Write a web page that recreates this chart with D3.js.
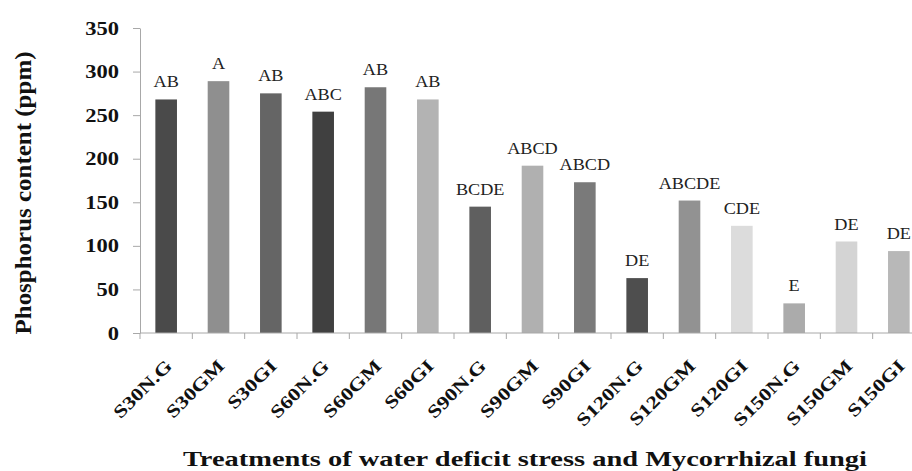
<!DOCTYPE html>
<html>
<head>
<meta charset="utf-8">
<script src="https://cdn.jsdelivr.net/npm/d3@7"></script>
<style>
  html, body { margin: 0; padding: 0; background: #fff; }
  svg { display: block; }
</style>
</head>
<body>
<div id="chart"></div>
<script>
const treatments = ["S30N.G", "S30GM", "S30GI", "S60N.G", "S60GM", "S60GI", "S90N.G", "S90GM",
  "S90GI", "S120N.G", "S120GM", "S120GI", "S150N.G", "S150GM", "S150GI"];
const phosphorus = [268, 289, 275, 254, 282, 268, 145, 192, 173, 63, 152, 123, 34, 105, 94];
const letters = ["AB", "A", "AB", "ABC", "AB", "AB", "BCDE", "ABCD", "ABCD", "DE", "ABCDE", "CDE", "E", "DE", "DE"];
const barColors = ["#4a4a4a", "#8f8f8f", "#656565", "#404040", "#777777", "#b3b3b3", "#5f5f5f", "#b0b0b0",
  "#7a7a7a", "#4e4e4e", "#929292", "#dcdcdc", "#ababab", "#d4d4d4", "#b8b8b8"];
const yTicks = [0, 50, 100, 150, 200, 250, 300, 350];

const width = 912;
const height = 471;
const margin = {left: 140, top: 28, bottom: 333};
const serif = "'Liberation Serif', 'Times New Roman', Times, serif";

const svg = d3.select("#chart").append("svg")
    .attr("width", width)
    .attr("height", height);

const x = d3.scaleBand()
    .domain(treatments)
    .range([margin.left, 925])
    .paddingInner(0.587)
    .paddingOuter(0.2935);

const y = d3.scaleLinear()
    .domain([0, 350])
    .range([margin.bottom, margin.top]);

// stretch text a bit wider, the original fonts run wide
function widen(sel, k) {
  sel.each(function () {
    const w = this.getComputedTextLength();
    d3.select(this).attr("textLength", w * k).attr("lengthAdjust", "spacingAndGlyphs");
  });
}

// bars
svg.append("g")
  .selectAll("rect")
  .data(phosphorus)
  .join("rect")
    .attr("x", (d, i) => x(treatments[i]))
    .attr("y", d => y(d))
    .attr("width", x.bandwidth())
    .attr("height", d => y(0) - y(d))
    .attr("fill", (d, i) => barColors[i]);

// letters over bars
const lab = svg.append("g")
  .selectAll("text")
  .data(phosphorus)
  .join("text")
    .attr("x", (d, i) => x(treatments[i]) + x.bandwidth() / 2)
    .attr("y", d => y(d) - 12)
    .attr("text-anchor", "middle")
    .style("font-family", serif)
    .attr("font-size", 17)
    .attr("fill", "#222")
    .text((d, i) => letters[i]);
widen(lab, 1.07);

// y axis
const yAxis = svg.append("g")
    .attr("transform", `translate(${margin.left},0)`)
    .call(d3.axisLeft(y).tickValues(yTicks).tickSize(7).tickSizeOuter(0).tickPadding(14));
yAxis.select(".domain").attr("stroke", "#a8a8a8");
yAxis.selectAll(".tick line").attr("stroke", "#a8a8a8");
const yLab = yAxis.selectAll(".tick text")
    .style("font-family", serif)
    .attr("font-weight", "bold")
    .attr("font-size", 18)
    .attr("fill", "#111")
    .attr("dy", "0.34em");
widen(yLab, 1.25);

// x axis
const xAxis = svg.append("g");
xAxis.append("line")
    .attr("x1", x.range()[0]).attr("x2", x.range()[1])
    .attr("y1", y(0)).attr("y2", y(0))
    .attr("stroke", "#a8a8a8");
xAxis.selectAll(".xtick")
  .data(d3.range(treatments.length + 1))
  .join("line")
    .attr("class", "xtick")
    .attr("x1", i => x.range()[0] + i * x.step())
    .attr("x2", i => x.range()[0] + i * x.step())
    .attr("y1", y(0))
    .attr("y2", y(0) + 6)
    .attr("stroke", "#a8a8a8");

const xLab = xAxis.selectAll(".xlab")
  .data(treatments)
  .join("text")
    .attr("class", "xlab")
    .attr("transform", d => `translate(${x(d) + x.bandwidth() / 2 + 7},${y(0) + 34}) rotate(-45)`)
    .attr("text-anchor", "end")
    .style("font-family", serif)
    .attr("font-weight", "bold")
    .attr("font-size", 18)
    .attr("fill", "#111")
    .text(d => d);
widen(xLab, 1.25);

// axis titles
svg.append("text")
    .attr("x", 525)
    .attr("y", 466)
    .attr("text-anchor", "middle")
    .style("font-family", serif)
    .attr("font-weight", "bold")
    .attr("font-size", 21)
    .attr("fill", "#111")
    .attr("textLength", 684)
    .attr("lengthAdjust", "spacingAndGlyphs")
    .text("Treatments of water deficit stress and Mycorrhizal fungi");

svg.append("text")
    .attr("transform", "translate(31,193) rotate(-90)")
    .attr("text-anchor", "middle")
    .style("font-family", serif)
    .attr("font-weight", "bold")
    .attr("font-size", 24)
    .attr("fill", "#111")
    .attr("textLength", 283)
    .attr("lengthAdjust", "spacingAndGlyphs")
    .text("Phosphorus content (ppm)");
</script>
</body>
</html>
